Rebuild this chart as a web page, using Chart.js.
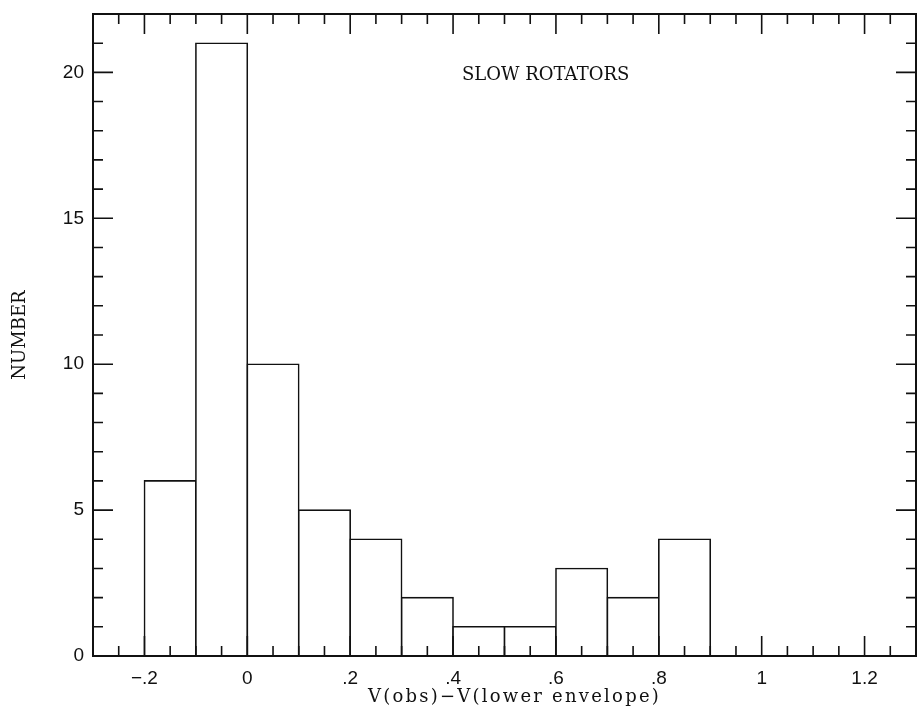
<!DOCTYPE html>
<html>
<head>
<meta charset="utf-8">
<script src="https://cdn.jsdelivr.net/npm/chart.js@4/dist/chart.umd.min.js"></script>
<style>
  html, body { margin: 0; padding: 0; background: #fff; }
  #wrap { width: 917px; height: 708px; }
</style>
</head>
<body>
<div id="wrap"><canvas id="hist" width="917" height="708"></canvas></div>
<script>
// histogram bins (left edges, width 0.1) and counts
const binStarts = [-0.2, -0.1, 0, 0.1, 0.2, 0.3, 0.4, 0.5, 0.6, 0.7, 0.8];
const counts = [6, 21, 10, 5, 4, 2, 1, 1, 3, 2, 4];
const binWidth = 0.1;

// axis ticks
const xTickValues = [-0.2, 0, 0.2, 0.4, 0.6, 0.8, 1, 1.2];
const xTickLabels = ["\u2212.2", "0", ".2", ".4", ".6", ".8", "1", "1.2"];
const yTickValues = [0, 5, 10, 15, 20];
const yTickLabels = ["0", "5", "10", "15", "20"];

const xTitle = "V(obs)\u2212V(lower envelope)";
const yTitle = "NUMBER";
const panelLabel = "SLOW ROTATORS";

const ink = "#111";
const serif = '"DejaVu Serif", "Liberation Serif", serif';

// inward tick marks on all four sides + frame + texts
const framePlugin = {
  id: "frame",
  afterDraw(c) {
    const ctx = c.ctx;
    const a = c.chartArea;
    const xs = c.scales.x, ys = c.scales.y;
    ctx.save();
    ctx.strokeStyle = ink;
    ctx.lineWidth = 1.6;

    // x ticks: minor every 0.05, major every 0.2
    for (let i = -6; i <= 26; i++) {
      const v = i * 0.05;
      const px = xs.getPixelForValue(v);
      if (px < a.left - 0.5 || px > a.right + 0.5) continue;
      const len = (i % 4 === 0) ? 20 : 10;
      ctx.beginPath();
      ctx.moveTo(px, a.bottom); ctx.lineTo(px, a.bottom - len);
      ctx.moveTo(px, a.top); ctx.lineTo(px, a.top + len);
      ctx.stroke();
    }
    // y ticks: minor every 1, major every 5
    for (let v = 0; v <= 22; v++) {
      const py = ys.getPixelForValue(v);
      const len = (v % 5 === 0) ? 20 : 10;
      ctx.beginPath();
      ctx.moveTo(a.left, py); ctx.lineTo(a.left + len, py);
      ctx.moveTo(a.right, py); ctx.lineTo(a.right - len, py);
      ctx.stroke();
    }

    ctx.lineWidth = 2;
    ctx.strokeRect(a.left, a.top, a.right - a.left, a.bottom - a.top);

    // texts
    ctx.fillStyle = ink;
    ctx.font = "18px " + serif;
    ctx.textAlign = "center";
    ctx.textBaseline = "middle";
    ctx.fillText(panelLabel, xs.getPixelForValue(0.58), ys.getPixelForValue(19.9));

    // x title, spread out like the monospaced original
    const w = ctx.measureText(xTitle).width;
    ctx.letterSpacing = ((293 - w) / xTitle.length).toFixed(2) + "px";
    ctx.textBaseline = "alphabetic";
    ctx.fillText(xTitle, (a.left + a.right) / 2 + 10, 702);
    ctx.letterSpacing = "0px";

    ctx.save();
    ctx.translate(20, (a.top + a.bottom) / 2);
    ctx.rotate(-Math.PI / 2);
    ctx.textBaseline = "middle";
    ctx.fillText(yTitle, 0, 0);
    ctx.restore();

    ctx.restore();
  }
};

new Chart(document.getElementById("hist"), {
  type: "bar",
  data: {
    datasets: [{
      data: binStarts.map((b, i) => ({ x: b + binWidth / 2, y: counts[i] })),
      backgroundColor: "#fff",
      borderColor: ink,
      borderWidth: 1.6,
      barPercentage: 1,
      categoryPercentage: 1,
      inflateAmount: 0.8
    }]
  },
  options: {
    responsive: false,
    animation: false,
    layout: { padding: { top: 14, right: 1, left: 0, bottom: 0 } },
    plugins: { legend: { display: false }, tooltip: { enabled: false } },
    scales: {
      x: {
        type: "linear",
        offset: false,
        min: -0.3,
        max: 1.3,
        grid: { display: false, drawTicks: false, offset: false },
        border: { display: false },
        afterBuildTicks: s => { s.ticks = xTickValues.map(v => ({ value: v })); },
        afterFit: s => { s.height = 52; s.paddingLeft = 0; s.paddingRight = 0; },
        ticks: {
          padding: 11,
          color: ink,
          maxRotation: 0,
          autoSkip: false,
          font: { family: '"Liberation Sans", Arial, sans-serif', size: 19 },
          callback: v => xTickLabels[xTickValues.findIndex(t => Math.abs(t - v) < 1e-9)]
        }
      },
      y: {
        min: 0,
        max: 22,
        grid: { display: false, drawTicks: false },
        border: { display: false },
        afterBuildTicks: s => { s.ticks = yTickValues.map(v => ({ value: v })); },
        afterFit: s => { s.width = 93; s.paddingTop = 0; s.paddingBottom = 0; },
        ticks: {
          padding: 9,
          color: ink,
          autoSkip: false,
          font: { family: '"Liberation Sans", Arial, sans-serif', size: 19 },
          callback: v => yTickLabels[yTickValues.indexOf(v)]
        }
      }
    }
  },
  plugins: [framePlugin]
});
</script>
</body>
</html>
